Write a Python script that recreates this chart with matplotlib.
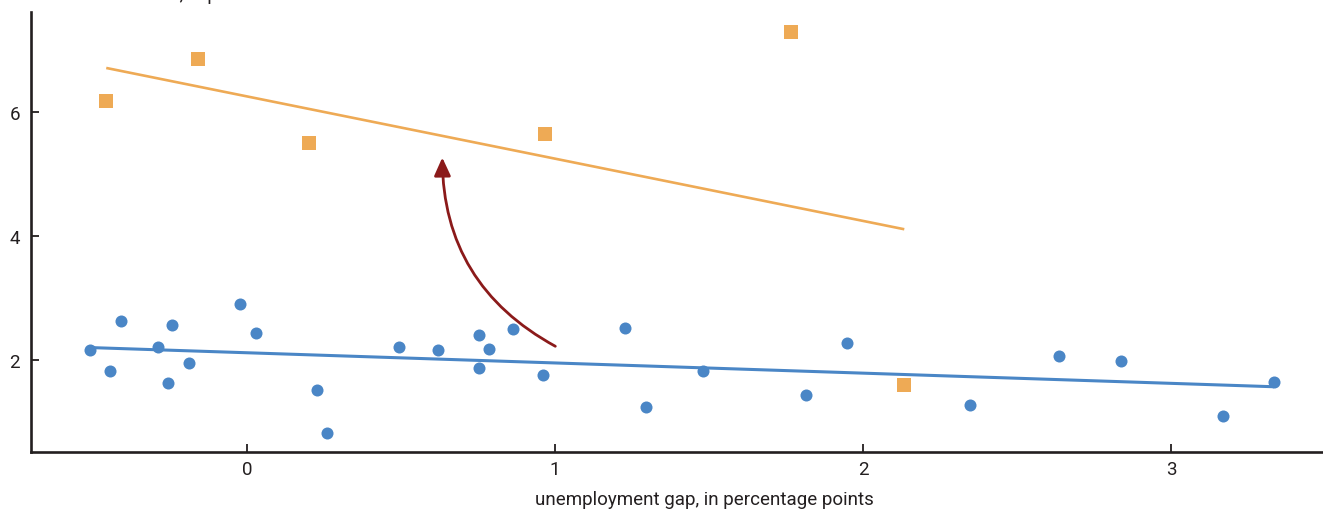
import numpy as np
import matplotlib
matplotlib.use("Agg")
import matplotlib.pyplot as plt
from matplotlib.patches import FancyArrowPatch

plt.rcParams['font.family'] = ['Roboto', 'DejaVu Sans']

# Recent period: unemployment gap vs. inflation
gap_recent = [-0.510, -0.445, -0.409, -0.289, -0.257, -0.244, -0.188, -0.023,
              0.029, 0.227, 0.260, 0.494, 0.620, 0.753, 0.753, 0.786, 0.864,
              0.961, 1.227, 1.296, 1.481, 1.815, 1.948, 2.347, 2.636, 2.838,
              3.169, 3.334]
infl_recent = [2.161, 1.823, 2.629, 2.210, 1.629, 2.565, 1.952, 2.903,
               2.435, 1.516, 0.823, 2.210, 2.161, 2.403, 1.871, 2.177, 2.500,
               1.758, 2.516, 1.242, 1.823, 1.435, 2.274, 1.274, 2.065, 1.984,
               1.097, 1.645]

# Earlier period
gap_early = [-0.457, -0.158, 0.202, 0.969, 1.766, 2.134]
infl_early = [6.173, 6.850, 5.495, 5.640, 7.285, 1.592]

x_ticks = [0, 1, 2, 3]
y_ticks = [2, 4, 6]

BLUE = "#4a86c6"
ORANGE = "#eeaa55"
DARKRED = "#8b1a1a"
INK = "#231f20"

fig = plt.figure(figsize=(13.23, 5.10), dpi=100)
ax = fig.add_axes([31 / 1323, 57 / 510, 1 - 31 / 1323, 440 / 510])

ax.scatter(gap_recent, infl_recent, s=75, color=BLUE, linewidths=0, zorder=3)
ax.scatter(gap_early, infl_early, s=88, marker='s', color=ORANGE, linewidths=0, zorder=3)

# least-squares fit lines over each sample's range
for gx, gy, col, lw in [(gap_recent, infl_recent, BLUE, 2.2),
                        (gap_early, infl_early, ORANGE, 1.9)]:
    b, a = np.polyfit(gx, gy, 1)
    xs = np.array([min(gx), max(gx)])
    ax.plot(xs, a + b * xs, color=col, lw=lw, zorder=2, solid_capstyle='butt')

# curved arrow indicating the shift
arrow = FancyArrowPatch((1.009, 2.20), (0.634, 5.31),
                        connectionstyle="arc3,rad=-0.3",
                        arrowstyle="-|>,head_length=11,head_width=5",
                        color=DARKRED, lw=2.0, zorder=4)
ax.add_patch(arrow)

ax.set_xlim(-0.7013, 3.4935)
ax.set_ylim(0.516, 7.613)
ax.set_xticks(x_ticks)
ax.set_yticks(y_ticks)
ax.tick_params(direction='in', length=6, width=1.3, color=INK,
               labelsize=13.5, labelcolor=INK)
ax.tick_params(axis='x', pad=6)
ax.tick_params(axis='y', pad=8)

for side in ['top', 'right']:
    ax.spines[side].set_visible(False)
for side in ['left', 'bottom']:
    ax.spines[side].set_linewidth(1.9)
    ax.spines[side].set_color(INK)

fig.text(704 / 1323, 1 - 500 / 510, "unemployment gap, in percentage points",
         ha='center', va='center', fontsize=13.5, color=INK)

# y-axis title sitting above the plot area
fig.text(31 / 1323, 1.0, "core PCE inflation, in percent",
         ha='left', va='baseline', fontsize=13.5, color=INK)

fig.savefig("out.png", dpi=100)
